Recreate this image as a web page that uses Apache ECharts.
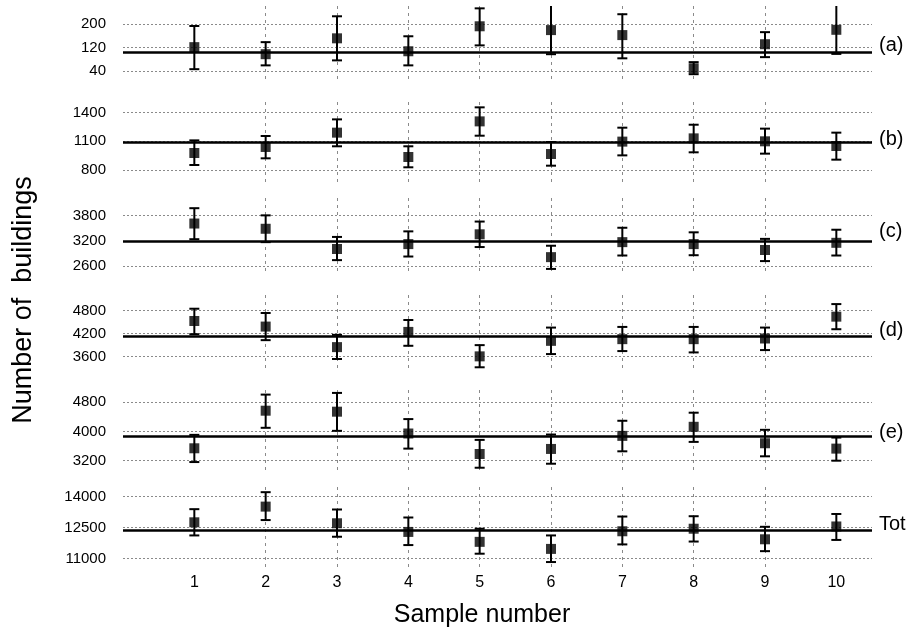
<!DOCTYPE html>
<html>
<head>
<meta charset="utf-8">
<script src="https://cdn.jsdelivr.net/npm/echarts@6/dist/echarts.min.js"></script>
<style>
  html, body { margin: 0; padding: 0; background: #fff; }
  #chart { width: 909px; height: 631px; }
</style>
</head>
<body>
<div id="chart"></div>
<script>
// Sample numbers along the shared horizontal axis
const sampleNumbers = [1, 2, 3, 4, 5, 6, 7, 8, 9, 10];
const panelNames = ['(a)', '(b)', '(c)', '(d)', '(e)', 'Tot'];

// (a)
const aMean = [122, 98, 152, 108, 193, 180, 163, 50, 132, 181];
const aLow  = [47, 60, 77, 60, 128, 98, 84, 30, 88, 99];
const aHigh = [194, 139, 227, 159, 254, 270, 234, 71, 173, 270];
const aRef = 106;
const aTicks = [40, 120, 200];

// (b)
const bMean = [978, 1041, 1191, 936, 1309, 967, 1097, 1131, 1100, 1051];
const bLow  = [852, 922, 1048, 828, 1159, 845, 953, 985, 971, 908];
const bHigh = [1110, 1156, 1330, 1048, 1456, 1093, 1243, 1274, 1233, 1191];
const bRef = 1094;
const bTicks = [800, 1100, 1400];

// (c)
const cMean = [3613, 3488, 3005, 3122, 3356, 2811, 3169, 3122, 2982, 3153];
const cLow  = [3239, 3169, 2740, 2826, 3052, 2530, 2850, 2857, 2717, 2850];
const cHigh = [3979, 3808, 3293, 3426, 3660, 3083, 3512, 3403, 3247, 3465];
const cRef = 3196;
const cTicks = [2600, 3200, 3800];

// (d)
const dMean = [4532, 4386, 3850, 4247, 3609, 4014, 4058, 4058, 4075, 4645];
const dLow  = [4187, 4032, 3540, 3885, 3324, 3669, 3747, 3712, 3773, 4317];
const dHigh = [4852, 4740, 4170, 4558, 3902, 4360, 4377, 4377, 4360, 4973];
const dRef = 4135;
const dTicks = [3600, 4200, 4800];

// (e)
const eMean = [3540, 4570, 4543, 3945, 3384, 3522, 3880, 4129, 3678, 3531];
const eLow  = [3163, 4101, 4018, 3531, 3007, 3117, 3457, 3715, 3320, 3200];
const eHigh = [3908, 5011, 5057, 4340, 3770, 3917, 4294, 4515, 4046, 3834];
const eRef = 3865;
const eTicks = [3200, 4000, 4800];

// Tot
const tMean = [12757, 13518, 12710, 12291, 11809, 11467, 12322, 12446, 11933, 12555];
const tLow  = [12120, 12866, 12057, 11653, 11234, 10830, 11685, 11824, 11358, 11902];
const tHigh = [13394, 14218, 13378, 12990, 12446, 12120, 13037, 13052, 12539, 13161];
const tRef = 12390;
const tTicks = [11000, 12500, 14000];

// Value ranges of each panel's vertical axis
const yRanges = [[0, 262], [674, 1512], [2385, 4222], [3201, 5210], [2945, 5137], [10444, 14469]];

const panels = [
  { mean: aMean, low: aLow, high: aHigh, ref: aRef, ticks: aTicks },
  { mean: bMean, low: bLow, high: bHigh, ref: bRef, ticks: bTicks },
  { mean: cMean, low: cLow, high: cHigh, ref: cRef, ticks: cTicks },
  { mean: dMean, low: dLow, high: dHigh, ref: dRef, ticks: dTicks },
  { mean: eMean, low: eLow, high: eHigh, ref: eRef, ticks: eTicks },
  { mean: tMean, low: tLow, high: tHigh, ref: tRef, ticks: tTicks }
];

// Layout of the stacked panels (pixels)
const gridLeft = 123, gridWidth = 749;
const panelTops = [6, 102, 198, 295, 390, 487];
const panelHeights = [77, 80, 77, 77, 80, 83];
const nameTops = [45, 139, 231, 330, 432, 524];

const FONT = '"Liberation Sans", Arial, sans-serif';
const gridColor = '#8a8a8a';

function renderErrorBar(params, api) {
  const x = api.value(0);
  const lo = api.coord([x, api.value(1)]);
  const hi = api.coord([x, api.value(2)]);
  const cap = 5;
  const style = { stroke: '#000', lineWidth: 2, fill: null };
  return {
    type: 'group',
    children: [
      { type: 'line', shape: { x1: lo[0], y1: lo[1], x2: hi[0], y2: hi[1] }, style: style },
      { type: 'line', shape: { x1: lo[0] - cap, y1: lo[1], x2: lo[0] + cap, y2: lo[1] }, style: style },
      { type: 'line', shape: { x1: hi[0] - cap, y1: hi[1], x2: hi[0] + cap, y2: hi[1] }, style: style }
    ]
  };
}

const grids = [], xAxes = [], yAxes = [], series = [], graphics = [];

panels.forEach(function (p, i) {
  grids.push({ left: gridLeft, width: gridWidth, top: panelTops[i], height: panelHeights[i] });

  xAxes.push({
    type: 'value', gridIndex: i, min: 0, max: 10.5, interval: 1,
    axisLine: { show: false },
    axisTick: { show: false, customValues: sampleNumbers },
    axisLabel: {
      show: i === panels.length - 1, customValues: sampleNumbers,
      fontSize: 16, color: '#000', fontFamily: FONT, margin: 5
    },
    splitLine: {
      show: true, showMinLine: false, showMaxLine: false,
      lineStyle: { color: gridColor, width: 1, type: [3, 4] }
    }
  });

  yAxes.push({
    type: 'value', gridIndex: i, min: yRanges[i][0], max: yRanges[i][1],
    axisLine: { show: false },
    axisTick: { show: false, customValues: p.ticks },
    axisLabel: {
      customValues: p.ticks, fontSize: 15, color: '#000', fontFamily: FONT, margin: 17,
      formatter: function (v) { return String(v); }
    },
    splitLine: { show: true, lineStyle: { color: gridColor, width: 1, type: [2, 2] } }
  });

  const bars = sampleNumbers.map(function (s, k) { return [s, p.low[k], p.high[k]]; });
  const points = sampleNumbers.map(function (s, k) { return [s, p.mean[k]]; });

  series.push({
    type: 'custom', xAxisIndex: i, yAxisIndex: i, clip: true, z: 3,
    renderItem: renderErrorBar, data: bars, silent: true
  });
  series.push({
    type: 'scatter', xAxisIndex: i, yAxisIndex: i, z: 4,
    symbol: 'rect', symbolSize: 10,
    itemStyle: { color: '#000' },
    data: points,
    markLine: {
      silent: true, symbol: 'none', animation: false,
      label: { show: false },
      lineStyle: { color: '#000', width: 2.5, type: 'solid' },
      data: [{ yAxis: p.ref }]
    }
  });

  graphics.push({
    type: 'text', x: 879, y: nameTops[i],
    style: { text: panelNames[i], font: '20px ' + FONT, fill: '#000', verticalAlign: 'middle' }
  });
});

graphics.push({
  type: 'text', x: 482, y: 615,
  style: { text: 'Sample number', font: '25px ' + FONT, fill: '#000',
           align: 'center', verticalAlign: 'middle' }
});
graphics.push({
  type: 'text', x: 24, y: 300, rotation: Math.PI / 2,
  style: { text: 'Number of  buildings', font: '27px ' + FONT, fill: '#000',
           align: 'center', verticalAlign: 'middle' }
});

const chart = echarts.init(document.getElementById('chart'), null, { renderer: 'canvas' });
chart.setOption({
  animation: false,
  backgroundColor: '#fff',
  grid: grids,
  xAxis: xAxes,
  yAxis: yAxes,
  series: series,
  graphic: graphics
});
</script>
</body>
</html>
